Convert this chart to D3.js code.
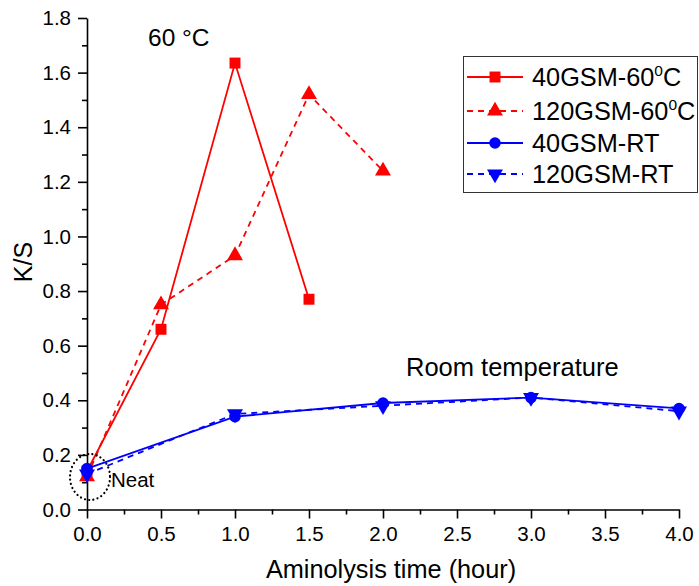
<!DOCTYPE html>
<html>
<head>
<meta charset="utf-8">
<script src="https://cdn.jsdelivr.net/npm/d3@7"></script>
<style>
  body { margin: 0; background: #fff; }
  text { font-family: Arial, "Liberation Sans", sans-serif; }
</style>
</head>
<body>
<div id="chart"></div>
<script>
let w = 699;
let h = 586;

// data
let t40_60 = [0, 0.5, 1, 1.5];
let ks40_60 = [0.14, 0.66, 1.635, 0.77];
let t120_60 = [0, 0.5, 1, 1.5, 2];
let ks120_60 = [0.12, 0.75, 0.93, 1.52, 1.24];
let tRT = [0, 1, 2, 3, 4];
let ks40_RT = [0.15, 0.34, 0.39, 0.41, 0.37];
let ks120_RT = [0.13, 0.35, 0.38, 0.41, 0.36];
let xTicks = [0, 0.5, 1, 1.5, 2, 2.5, 3, 3.5, 4];
let yTicks = [0, 0.2, 0.4, 0.6, 0.8, 1.0, 1.2, 1.4, 1.6, 1.8];

let series = [
  {name: '40GSM-60', sup: '0', tail: 'C', t: t40_60, v: ks40_60, color: '#ff0000', dash: null, sym: d3.symbolSquare, size: 120, rot: 0},
  {name: '120GSM-60', sup: '0', tail: 'C', t: t120_60, v: ks120_60, color: '#ff0000', dash: '6,5', sym: d3.symbolTriangle, size: 110, rot: 0},
  {name: '40GSM-RT', sup: '', tail: '', t: tRT, v: ks40_RT, color: '#0000ff', dash: null, sym: d3.symbolCircle, size: 105, rot: 0},
  {name: '120GSM-RT', sup: '', tail: '', t: tRT, v: ks120_RT, color: '#0000ff', dash: '6,5', sym: d3.symbolTriangle, size: 110, rot: 180}
];

let x = d3.scaleLinear().domain([0, 4]).range([87, 679]);
let y = d3.scaleLinear().domain([0, 1.8]).range([509.5, 18]);

let svg = d3.select('#chart').
append('svg').
attr('width', w).
attr('height', h);

// minor ticks
let xMinor = d3.range(0.25, 4, 0.5);
let yMinor = d3.range(0.1, 1.8, 0.2);

svg.append('g').
attr('transform', 'translate(0,' + y(0) + ')').
call(d3.axisBottom(x).tickValues(xMinor).tickSize(5).tickFormat('')).
call(g => g.select('.domain').remove());

svg.append('g').
attr('transform', 'translate(87,0)').
call(d3.axisLeft(y).tickValues(yMinor).tickSize(5).tickFormat('')).
call(g => g.select('.domain').remove());

let xAxis = svg.append('g').
attr('transform', 'translate(0,' + y(0) + ')').
call(d3.axisBottom(x).tickValues(xTicks).tickSize(9).tickSizeOuter(0).tickPadding(8).tickFormat(d3.format('.1f')));
xAxis.selectAll('text').attr('font-size', 20.5).attr('fill', '#000');

let yAxis = svg.append('g').
attr('transform', 'translate(87,0)').
call(d3.axisLeft(y).tickValues(yTicks).tickSize(9).tickSizeOuter(0).tickPadding(7).tickFormat(d3.format('.1f')));
yAxis.selectAll('text').attr('font-size', 20.5).attr('fill', '#000');

svg.selectAll('.domain, .tick line').attr('stroke', '#000').attr('stroke-width', 1.6);

// axis titles
svg.append('text').
attr('x', 391).attr('y', 578).
attr('text-anchor', 'middle').
attr('font-size', 25.3).
text('Aminolysis time (hour)');

svg.append('text').
attr('transform', 'translate(32,262) rotate(-90)').
attr('text-anchor', 'middle').
attr('font-size', 25).
text('K/S');

// lines + markers
let line = d3.line().x(d => x(d[0])).y(d => y(d[1]));

series.forEach(s => {
  let pts = s.t.map((t, i) => [t, s.v[i]]);
  svg.append('path').
  attr('d', line(pts)).
  attr('fill', 'none').
  attr('stroke', s.color).
  attr('stroke-width', 1.8).
  attr('stroke-dasharray', s.dash);

  svg.append('g').selectAll('path').
  data(pts).
  enter().
  append('path').
  attr('d', d3.symbol().type(s.sym).size(s.size)).
  attr('transform', d => 'translate(' + x(d[0]) + ',' + y(d[1]) + ') rotate(' + s.rot + ')').
  attr('fill', s.color);
});

// annotations
svg.append('text').attr('x', 148).attr('y', 46).attr('font-size', 24.5).text('60 \u00B0C');
svg.append('text').attr('x', 406).attr('y', 376).attr('font-size', 25.5).text('Room temperature');

svg.append('ellipse').
attr('cx', 90).attr('cy', 477).
attr('rx', 20).attr('ry', 23).
attr('fill', 'none').
attr('stroke', '#000').
attr('stroke-width', 2.2).
attr('stroke-linecap', 'round').
attr('stroke-dasharray', '0.1,4.2');
svg.append('text').attr('x', 111).attr('y', 487).attr('font-size', 20.5).text('Neat');

// legend
let legend = svg.append('g').attr('id', 'legend');
legend.append('rect').
attr('x', 463.5).attr('y', 56.5).
attr('width', 234).attr('height', 136).
attr('fill', '#fff').
attr('stroke', '#333').
attr('stroke-width', 1);

let rowY = [77, 111, 143, 174];
series.forEach((s, i) => {
  let g = legend.append('g').attr('transform', 'translate(0,' + rowY[i] + ')');
  g.append('line').
  attr('x1', 467).attr('x2', 523).
  attr('stroke', s.color).
  attr('stroke-width', 1.8).
  attr('stroke-dasharray', s.dash);
  g.append('path').
  attr('d', d3.symbol().type(s.sym).size(s.size)).
  attr('transform', 'translate(495,0) rotate(' + s.rot + ')').
  attr('fill', s.color);
  let txt = g.append('text').attr('x', 532).attr('y', 8.5).attr('font-size', 25.3).text(s.name);
  if (s.sup) {
    txt.append('tspan').attr('font-size', 15.5).attr('dy', -9.5).text(s.sup);
    txt.append('tspan').attr('dy', 9.5).text(s.tail);
  }
});
</script>
</body>
</html>
